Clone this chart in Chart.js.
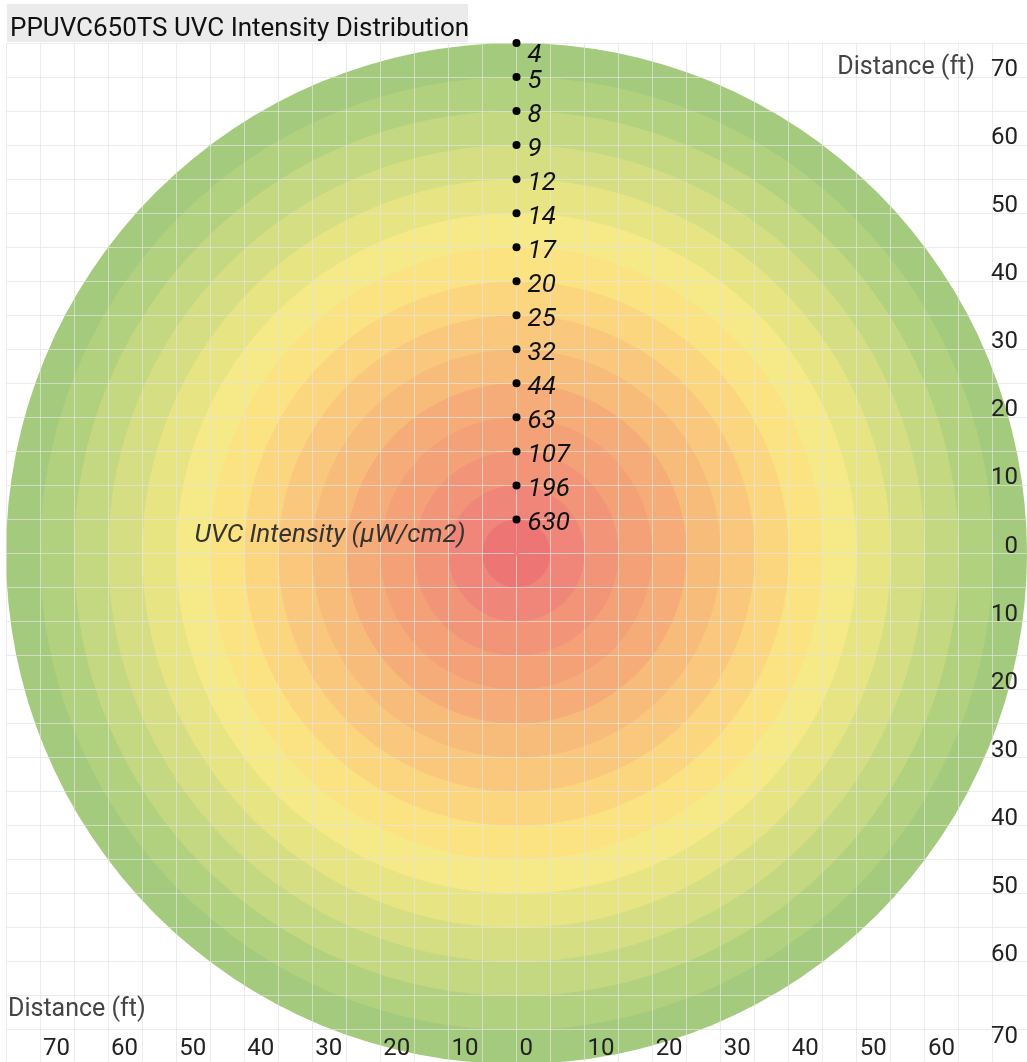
<!DOCTYPE html>
<html>
<head>
<meta charset="utf-8">
<title>PPUVC650TS UVC Intensity Distribution</title>
<script src="https://cdn.jsdelivr.net/npm/chart.js@4/dist/chart.umd.min.js"></script>
<style>
  html, body { margin: 0; padding: 0; overflow: hidden; background: #fff; }
  #wrap { position: relative; width: 1027px; height: 1064px; }
  #chart-title {
    position: absolute; left: 7px; top: 4px; width: 461px; height: 38px;
    box-sizing: border-box; padding: 8px 0 0 3px; line-height: 30px;
    background: #ebebeb; color: #111; font: 26px Roboto, sans-serif; white-space: nowrap;
  }
</style>
</head>
<body>
<div id="wrap">
  <canvas id="uvcChart"></canvas>
  <div id="chart-title">PPUVC650TS UVC Intensity Distribution</div>
</div>
<script>
// 1. Data (jarak dalam ft, intensitas dalam µW/cm2)
const distanceFt = [5, 10, 15, 20, 25, 30, 35, 40, 45, 50, 55, 60, 65, 70, 75];
const intensity = [630, 196, 107, 63, 44, 32, 25, 20, 17, 14, 12, 9, 8, 5, 4];
const axisMin = -75;
const axisMax = 75;
const tickStep = 5;

// 2. Warna cincin, dari tengah ke luar
const ringColors = ['#ed7675', '#f08679', '#f29478', '#f4a177', '#f6ac78', '#f8bc7a', '#fac87d',
  '#fcd67f', '#fbe382', '#f6e987', '#e7e484', '#d5de83', '#c4d881', '#b2d17e', '#a3ca7d'];

// cincin terbesar digambar dulu
const ringDist = distanceFt.slice().reverse();
const ringFill = ringColors.slice().reverse();

const gridColor = 'rgba(228,228,228,0.7)';
const fontFamily = 'Roboto, sans-serif';

// 3. Plugin: grid di atas cincin, label angka, judul sumbu
const overlayPlugin = {
  id: 'overlay',
  afterDatasetDraw(chart, args) {
    if (args.index !== 0) return;
    const big = args.meta.data[0];
    const ctx = chart.ctx;
    ctx.save();
    ctx.beginPath();
    ctx.arc(big.x, big.y, big.options.radius, 0, Math.PI * 2);
    ctx.clip();
    chart.scales.x.drawGrid(chart.chartArea);
    chart.scales.y.drawGrid(chart.chartArea);
    ctx.restore();
  },
  afterDatasetsDraw(chart) {
    const ctx = chart.ctx;
    const area = chart.chartArea;
    ctx.save();
    ctx.font = 'italic 26px ' + fontFamily;
    ctx.fillStyle = '#111';
    ctx.textAlign = 'left';
    ctx.textBaseline = 'middle';
    chart.getDatasetMeta(2).data.forEach((pt, i) => {
      const ly = Math.max(pt.y + 4, area.top + 12);
      ctx.fillText(String(intensity[i]), pt.x + 11, ly);
    });
    // nama seri di kiri titik nol
    const x0 = chart.scales.x.getPixelForValue(0);
    const y0 = chart.scales.y.getPixelForValue(0);
    ctx.fillStyle = '#333';
    ctx.textAlign = 'right';
    ctx.textBaseline = 'alphabetic';
    ctx.fillText('UVC Intensity (µW/cm2)', x0 - 51, y0 - 12);
    ctx.restore();
  },
  afterDraw(chart) {
    const ctx = chart.ctx;
    const area = chart.chartArea;
    ctx.save();
    ctx.font = '25px ' + fontFamily;
    ctx.fillStyle = '#444';
    ctx.textBaseline = 'alphabetic';
    ctx.textAlign = 'right';
    ctx.fillText('Distance (ft)', area.right - 52, area.top + 31);
    ctx.textAlign = 'left';
    ctx.fillText('Distance (ft)', area.left + 2, area.bottom - 48);
    ctx.restore();
  }
};

function tickText(v, isX) {
  if (v % 10 !== 0 || Math.abs(v) >= 75) return '';
  if (isX && v === 70) return '';
  // label paling bawah turun ke bawah garis
  if (!isX && v === -70) return ['', '70'];
  return String(Math.abs(v));
}

// sumbu tidak makan tempat, label digambar di dalam area
function noSpace(s) {
  if (s.isHorizontal()) s.height = 0; else s.width = 0;
  s.paddingTop = 0;
  s.paddingBottom = 0;
  s.paddingLeft = 0;
  s.paddingRight = 0;
}

// 4. Grafik
const ctx = document.getElementById('uvcChart').getContext('2d');
window.myChart = new Chart(ctx, {
  type: 'scatter',
  data: {
    datasets: [
      {
        label: 'rings',
        data: ringDist.map(() => ({ x: 0, y: 0 })),
        backgroundColor: ringFill,
        borderWidth: 0,
        pointRadius: (c) => {
          const xs = c.chart.scales.x;
          return xs.getPixelForValue(ringDist[c.dataIndex]) - xs.getPixelForValue(0);
        },
        order: 3
      },
      {
        label: 'center',
        data: [{ x: 0, y: 0 }, { x: 0, y: distanceFt[0] }],
        showLine: true,
        borderColor: 'rgba(232,100,100,0.45)',
        borderWidth: 2,
        backgroundColor: 'rgba(240,120,120,0.8)',
        pointRadius: [3, 0],
        pointBorderWidth: 0,
        order: 2
      },
      {
        label: 'UVC Intensity (µW/cm2)',
        data: distanceFt.map(d => ({ x: 0, y: d })),
        backgroundColor: '#000',
        borderWidth: 0,
        pointRadius: 4,
        clip: false,
        order: 1
      }
    ]
  },
  options: {
    responsive: true,
    maintainAspectRatio: false,
    animation: false,
    events: [],
    layout: { autoPadding: false, padding: { top: 43, left: 6, right: 0, bottom: 0 } },
    plugins: {
      legend: { display: false },
      tooltip: { enabled: false },
      title: { display: false }
    },
    scales: {
      x: {
        type: 'linear',
        position: 'bottom',
        min: axisMin,
        max: axisMax,
        afterFit: noSpace,
        grid: { color: gridColor, lineWidth: 1, drawTicks: false },
        border: { display: false },
        ticks: {
          stepSize: tickStep,
          autoSkip: false,
          maxRotation: 0,
          mirror: true,
          align: 'start',
          padding: 1,
          labelOffset: 3,
          z: 1,
          color: '#222',
          font: { family: fontFamily, size: 24 },
          callback: (v) => tickText(v, true)
        }
      },
      y: {
        type: 'linear',
        position: 'right',
        min: axisMin,
        max: axisMax,
        afterFit: noSpace,
        grid: { color: gridColor, lineWidth: 1, drawTicks: false },
        border: { display: false },
        ticks: {
          stepSize: tickStep,
          autoSkip: false,
          mirror: true,
          padding: -9,
          labelOffset: -7,
          z: 1,
          color: '#222',
          font: { family: fontFamily, size: 24 },
          callback: (v) => tickText(v, false)
        }
      }
    }
  },
  plugins: [overlayPlugin]
});
</script>
</body>
</html>
